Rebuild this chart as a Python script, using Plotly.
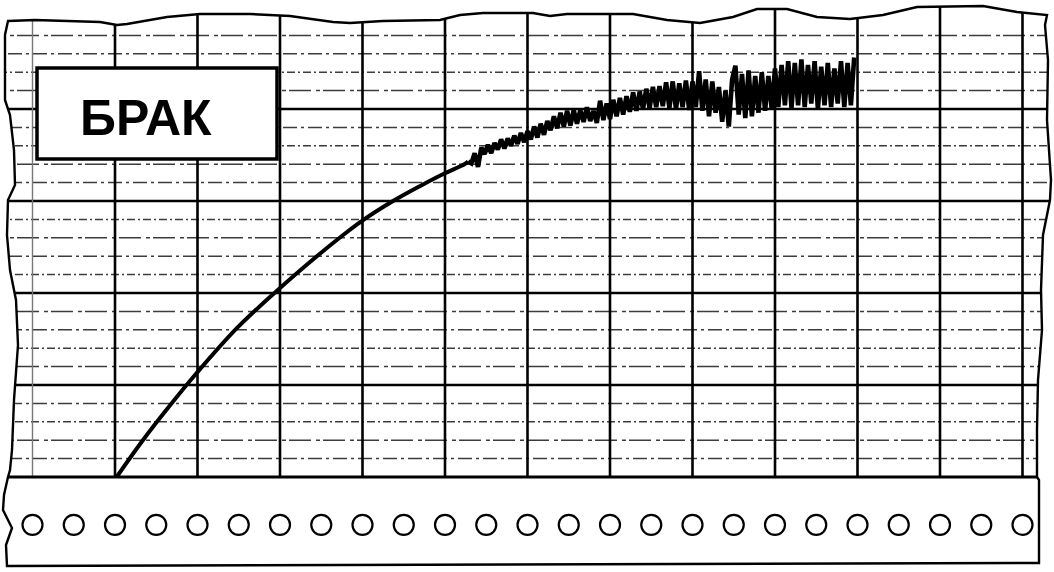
import plotly.graph_objects as go

# ---------------- data (x: chart divisions along the paper, y: minor divisions) -------------
grid_x_major = [0, 1, 2, 3, 4, 5, 6, 7, 8, 9, 10, 11]
grid_x_thin = [-1]
grid_y_major = [5, 10, 15, 20]
grid_y_minor = [1, 2, 3, 4, 6, 7, 8, 9, 11, 12, 13, 14, 16, 17, 18, 19, 21, 22, 23, 24]
grid_y_base = 0

hole_x = [-1.0, -0.5, 0.0, 0.5, 1.0, 1.5, 2.0, 2.5, 3.0, 3.5, 4.0, 4.5, 5.0,
          5.5, 6.0, 6.5, 7.0, 7.5, 8.0, 8.5, 9.0, 9.5, 10.0, 10.5, 11.0]
hole_y = -2.6

smooth_t = [0.02, 0.34, 0.67, 0.99, 1.48, 1.96, 2.45, 2.75, 2.99, 3.37, 3.70, 3.98, 4.24, 4.28]
smooth_v = [0.0, 2.01, 3.91, 5.65, 8.10, 10.11, 12.01, 13.10, 13.91, 15.0, 15.82, 16.47, 17.01, 17.15]

noise_t = [4.28, 4.32, 4.36, 4.40, 4.44, 4.48, 4.52, 4.56, 4.60, 4.64,
           4.68, 4.72, 4.76, 4.80, 4.84, 4.88, 4.92, 4.96, 5.00, 5.04,
           5.08, 5.12, 5.16, 5.20, 5.24, 5.28, 5.32, 5.36, 5.40, 5.44,
           5.48, 5.52, 5.56, 5.60, 5.64, 5.68, 5.72, 5.76, 5.80, 5.84,
           5.88, 5.92, 5.96, 6.00, 6.04, 6.08, 6.12, 6.16, 6.20, 6.24,
           6.28, 6.32, 6.36, 6.40, 6.44, 6.48, 6.52, 6.56, 6.60, 6.64,
           6.68, 6.72, 6.76, 6.80, 6.84, 6.88, 6.92, 6.96, 7.00, 7.04,
           7.08, 7.12, 7.16, 7.20, 7.24, 7.28, 7.32, 7.36, 7.40, 7.44,
           7.48, 7.52, 7.56, 7.60, 7.64, 7.68, 7.72, 7.76, 7.80, 7.84,
           7.88, 7.92, 7.96, 8.00, 8.04, 8.08, 8.12, 8.16, 8.20, 8.24,
           8.28, 8.32, 8.36, 8.40, 8.44, 8.48, 8.52, 8.56, 8.60, 8.64,
           8.68, 8.72, 8.76, 8.80, 8.84, 8.88, 8.92, 8.96]
noise_v = [17.15, 17.05, 17.6, 16.85, 17.9, 17.55, 18.05, 17.6, 18.15, 17.8,
           18.35, 17.85, 18.4, 18.0, 18.55, 18.1, 18.7, 18.2, 18.8, 18.35,
           19.05, 18.45, 19.2, 18.6, 19.35, 18.85, 19.6, 18.95, 19.8, 19.05,
           19.9, 19.1, 19.95, 19.2, 19.95, 19.3, 20.1, 19.35, 19.9, 19.25,
           20.45, 19.4, 20.3, 19.45, 20.5, 19.6, 20.6, 19.7, 20.7, 19.85,
           20.9, 19.9, 20.95, 20.0, 21.1, 20.05, 21.2, 20.1, 21.25, 20.15,
           21.45, 20.05, 21.5, 20.0, 21.4, 20.1, 21.55, 19.95, 21.5, 20.1,
           22.05, 19.9, 21.6, 19.6, 21.5, 19.8, 21.2, 19.3, 21.0, 19.05,
           21.6, 22.35, 19.7, 21.9, 19.5, 22.1, 19.6, 21.8, 19.8, 22.0,
           19.9, 21.8, 20.0, 22.2, 20.1, 22.4, 20.2, 22.6, 20.05, 22.5,
           20.2, 22.7, 20.1, 22.4, 20.3, 22.6, 20.0, 22.3, 20.2, 22.5,
           20.1, 22.2, 20.3, 22.6, 20.1, 22.5, 20.2, 22.8]

label_text = "БРАК"

# ---------------- layout helpers -------------
W, H = 1054, 572


def P(px):
    return px / W


def Q(py):
    return 1 - py / H


def path_from(pts, close=True):
    s = "M " + " L ".join(f"{P(x):.5f},{Q(y):.5f}" for x, y in pts)
    return s + (" Z" if close else "")


# paper outline (pixel positions of the torn/wavy edge)
top_edge = [(8, 21), (35, 20), (100, 22), (117, 25), (127, 24), (167, 17), (200, 14),
            (250, 14), (290, 16), (333, 22), (350, 23), (383, 21), (440, 20), (460, 15),
            (483, 13), (533, 13), (550, 16), (567, 14), (633, 14), (667, 20), (700, 23),
            (733, 17), (757, 9), (787, 9), (817, 17), (850, 19), (883, 15), (917, 7),
            (983, 6), (1017, 12), (1047, 15)]
right_edge = [(1045, 25), (1048, 60), (1047, 120), (1051, 180), (1050, 200), (1043, 235),
              (1041, 290), (1042, 330), (1038, 380), (1037, 430), (1037, 477),
              (1039, 480), (1039, 563)]
bottom_edge = [(7, 566)]
left_edge = [(6, 545), (12, 528), (3, 510), (4, 495), (8, 477), (10, 470), (12, 450),
             (14, 400), (18, 345), (16, 300), (10, 270), (7, 235), (8, 200), (15, 185),
             (14, 150), (10, 115), (5, 100), (5, 35)]
outline = top_edge + right_edge + bottom_edge + left_edge

fig = go.Figure()

# recorder trace
fig.add_trace(go.Scatter(x=smooth_t, y=smooth_v, mode="lines",
                         line=dict(color="black", width=4, shape="spline", smoothing=1.0),
                         hoverinfo="skip", showlegend=False))
fig.add_trace(go.Scatter(x=noise_t, y=noise_v, mode="lines",
                         line=dict(color="black", width=4.6),
                         hoverinfo="skip", showlegend=False))
# sprocket holes
fig.add_trace(go.Scatter(x=hole_x, y=[hole_y] * len(hole_x), mode="markers",
                         marker=dict(symbol="circle-open", size=20, color="black",
                                     line=dict(width=2.2, color="black")),
                         hoverinfo="skip", showlegend=False))

shapes = []
X_LO, X_HI = -1.6, 11.6
Y_TOP = 26.5
dash_styles = ["14px,4px,3px,4px", "22px,5px,4px,3px", "8px,3px,2px,3px"]
for i, yv in enumerate(grid_y_minor):
    shapes.append(dict(type="line", xref="x", yref="y", x0=X_LO, x1=X_HI, y0=yv, y1=yv,
                       line=dict(color="#3c3c3c", width=1.5, dash=dash_styles[i % 3]),
                       layer="below"))
for yv in grid_y_major:
    shapes.append(dict(type="line", xref="x", yref="y", x0=X_LO, x1=X_HI, y0=yv, y1=yv,
                       line=dict(color="black", width=2.3), layer="below"))
for xv in grid_x_thin:
    shapes.append(dict(type="line", xref="x", yref="y", x0=xv, x1=xv, y0=grid_y_base, y1=Y_TOP,
                       line=dict(color="#777777", width=1.4), layer="below"))
for xv in grid_x_major:
    shapes.append(dict(type="line", xref="x", yref="y", x0=xv, x1=xv, y0=grid_y_base, y1=Y_TOP,
                       line=dict(color="black", width=2.6), layer="below"))
shapes.append(dict(type="line", xref="x", yref="y", x0=X_LO, x1=X_HI, y0=grid_y_base,
                   y1=grid_y_base, line=dict(color="black", width=3.2), layer="below"))

# white mask outside the paper
outer = "M -0.02,-0.02 L 1.02,-0.02 L 1.02,1.02 L -0.02,1.02 Z "
shapes.append(dict(type="path", xref="paper", yref="paper", path=outer + path_from(outline),
                   fillcolor="white", line=dict(width=0), fillrule="evenodd", layer="above"))
shapes.append(dict(type="path", xref="paper", yref="paper", path=path_from(outline),
                   fillcolor="rgba(0,0,0,0)", line=dict(color="black", width=2.4), layer="above"))
# label box
shapes.append(dict(type="rect", xref="paper", yref="paper", x0=P(37), x1=P(277), y0=Q(159), y1=Q(68),
                   fillcolor="white", line=dict(color="black", width=3.5), layer="above"))

fig.update_layout(
    width=W, height=H, margin=dict(l=0, r=0, t=0, b=0),
    paper_bgcolor="white", plot_bgcolor="white",
    xaxis=dict(range=[-115 / 82.5, (W - 115) / 82.5], visible=False, fixedrange=True),
    yaxis=dict(range=[(477 - H) / 18.4, 477 / 18.4], visible=False, fixedrange=True),
    shapes=shapes,
    annotations=[dict(text=f"<b>{label_text}</b>", xref="paper", yref="paper",
                      x=P(145.5), y=Q(117.5), xanchor="center", yanchor="middle",
                      showarrow=False,
                      font=dict(family="Liberation Sans, Arial, sans-serif", size=50, color="black"))],
)

fig.write_html("out.html", config={"displayModeBar": False},
               post_script="document.body.style.margin='0px';document.body.style.overflow='hidden';")
